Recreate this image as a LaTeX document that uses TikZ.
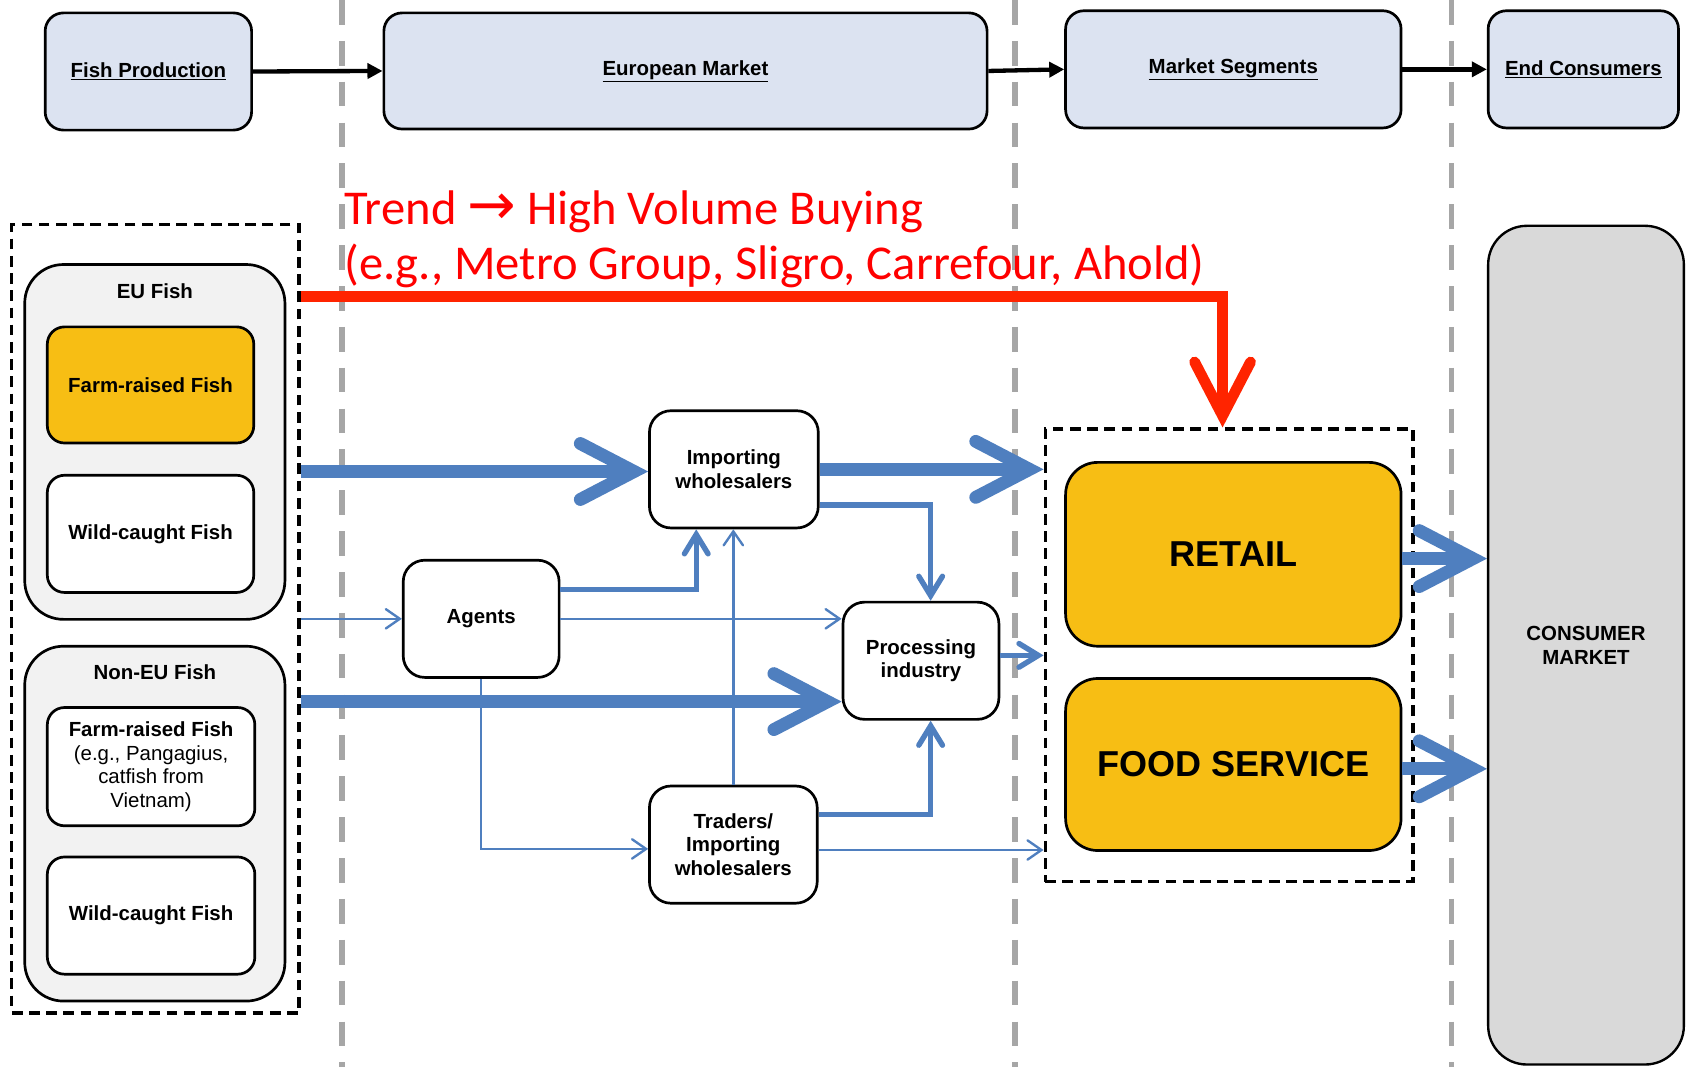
\documentclass[tikz,border=0pt]{standalone}
\usepackage{fontspec}
\setmainfont{Liberation Sans}
\newfontfamily\trendfont{Carlito}
\newfontfamily\symfont{DejaVu Sans}
\definecolor{headfill}{HTML}{DCE3F1}
\definecolor{groupfill}{HTML}{F2F2F2}
\definecolor{marketfill}{HTML}{D9D9D9}
\definecolor{goldcol}{HTML}{F7BE14}
\definecolor{flowcol}{HTML}{4F7FBF}
\definecolor{trendcol}{HTML}{FF2400}
\definecolor{trendtext}{HTML}{FF0000}
\definecolor{guidecol}{HTML}{A6A6A6}
\usetikzlibrary{arrows.meta}

\tikzset{
  boxfont/.style={font=\fontsize{19}{22}\selectfont\bfseries},
  headbox/.style={draw, line width=2.5pt, rounded corners=17pt, fill=headfill,
    inner sep=0pt, boxfont},
  groupbox/.style={draw, line width=2.5pt, rounded corners=36pt, fill=groupfill},
  fishbox/.style={draw, line width=2.5pt, rounded corners=16pt, fill=white,
    inner sep=0pt, align=center, boxfont},
  flowbox/.style={draw, line width=2.5pt, rounded corners=20pt, fill=white,
    minimum height=109pt, inner sep=0pt, align=center, boxfont},
  salesbox/.style={draw, line width=2.5pt, rounded corners=30pt, fill=goldcol,
    inner sep=0pt, font=\fontsize{33.5}{38}\selectfont\bfseries},
  marketbox/.style={draw, line width=2.2pt, rounded corners=36pt, fill=marketfill,
    inner sep=0pt, align=center, boxfont},
  frame/.style={draw, line width=3pt, dash pattern=on 10pt off 6pt, inner sep=0pt},
  guide/.style={guidecol, line width=5pt, dash pattern=on 23pt off 15pt},
  headarrow/.style={draw, line width=4pt, -{Triangle[length=14pt,width=14pt]}},
  flowthick/.style={draw=flowcol, line width=12pt,
    -{Straight Barb[length=50pt,width=52pt,line cap=round,line join=miter]}},
  flowmid/.style={draw=flowcol, line width=5pt,
    -{Straight Barb[length=18pt,width=22pt,line cap=round,line join=miter]}},
  flowthin/.style={draw=flowcol, line width=2.2pt,
    -{Straight Barb[length=13pt,width=18pt,line cap=round,line join=miter]}},
  trendline/.style={draw=trendcol, line width=10pt,
    -{Straight Barb[length=50pt,width=52pt,line cap=round,line join=miter]}},
  trendtxt/.style={text=trendtext, inner sep=0pt,
    font=\trendfont\fontsize{45.2}{52}\selectfont},
}

\begin{document}
\begin{tikzpicture}[x=1pt, y=-1pt]

\fill[white] (0,0) rectangle (1568,992);
\useasboundingbox (0,0) rectangle (1568,992);

% === stage separators ===
\foreach \gx in {318,944,1350}
  \draw[guide] (\gx,0) -- (\gx,992);

% === TOP: value chain stages ===
\node[headbox, minimum width=192pt, minimum height=109pt] (fishprod) at (138,66.5) {\underline{Fish Production}};
\node[headbox, minimum width=561pt, minimum height=108pt] (eumarket) at (637.5,66) {\underline{European Market}};
\node[headbox, minimum width=312pt, minimum height=109pt] (segments) at (1147,64.5) {\underline{Market Segments}};
\node[headbox, minimum width=177pt, minimum height=109pt] (endcons) at (1472.5,64.5) {\underline{End Consumers}};

\draw[headarrow] (fishprod.east) -- (eumarket.west);
\draw[headarrow] (eumarket.east) -- (segments.west);
\draw[headarrow] (segments.east) -- (endcons.west);

% === LEFT: fish sources ===
\node[frame, minimum width=267pt, minimum height=733pt] (source) at (144.5,575.5) {};

\node[groupbox, minimum width=242pt, minimum height=330pt] (eugroup) at (144,411) {};
\node[boxfont] (eutitle) at (144,271) {EU Fish};
\node[fishbox, fill=goldcol, minimum width=192pt, minimum height=108pt] (eufarm) at (140,358) {Farm-raised Fish};
\node[fishbox, minimum width=192pt, minimum height=109pt] (euwild) at (140,496.5) {Wild-caught Fish};

\node[groupbox, minimum width=242pt, minimum height=330pt] (nongroup) at (144,766) {};
\node[boxfont] (nontitle) at (144,625) {Non-EU Fish};
\node[fishbox, minimum width=193pt, minimum height=110pt] (nonfarm) at (140.5,713)
  {Farm-raised Fish\\\mdseries (e.g., Pangagius,\\\mdseries catfish from\\\mdseries Vietnam)};
\node[fishbox, minimum width=193pt, minimum height=109pt] (nonwild) at (140.5,851.5) {Wild-caught Fish};

% === CENTER: trade inside the European market ===
\node[flowbox, minimum width=157pt] (impw) at (682.5,436.5) {Importing\\wholesalers};
\node[flowbox, minimum width=145pt] (agents) at (447.5,575.5) {Agents};
\node[flowbox, minimum width=145pt] (proc) at (856.5,614.5) {Processing\\industry};
\node[flowbox, minimum width=156pt] (traders) at (682,785.5) {Traders/\\Importing\\wholesalers};

% === RIGHT: segments and consumers ===
\node[frame, minimum width=342pt, minimum height=421pt] (segframe) at (1143,609.5) {};
\node[salesbox, minimum width=312pt, minimum height=171pt] (retail) at (1147,515.5) {RETAIL};
\node[salesbox, minimum width=312pt, minimum height=160pt] (foodserv) at (1147,711) {FOOD SERVICE};
\node[marketbox, minimum width=182pt, minimum height=780pt] (consumer) at (1475,600) {CONSUMER\\MARKET};

% flows from the sources
\coordinate (procin) at ([yshift=-38pt]proc.west);
\draw[flowthick] ([yshift=-2pt]source.east |- impw.west) -- ([yshift=-2pt]impw.west);
\draw[flowthin] (source.east |- agents.west) -- (agents.west);
\draw[flowthick] (source.east |- procin) -- (procin);

% flows between the traders
\coordinate (tradout) at ([yshift=-5pt]traders.east);
\coordinate (procout) at ([yshift=5pt]proc.east);
\draw[flowthick] (impw.east) -- (segframe.west |- impw.east);
\draw[flowmid] ([yshift=-33pt]impw.east) -| ([xshift=9pt]proc.north);
\draw[flowmid] ([yshift=27pt]agents.east) -| ([xshift=-35pt]impw.south);
\draw[flowthin] (agents.east) -- (agents.east -| proc.west);
\draw[flowthin] (traders.north) -- (impw.south -| traders.north);
\draw[flowthin] (agents.south) |- ([yshift=-4pt]traders.west);
\draw[flowmid] ([yshift=28pt]traders.east) -| ([xshift=9pt]proc.south);
\draw[flowthin] (tradout) -- (segframe.west |- tradout);
\draw[flowmid] (procout) -- (segframe.west |- procout);

% flows to the consumer market
\coordinate (retailout) at ([yshift=-4pt]retail.east);
\coordinate (foodout) at ([yshift=-4pt]foodserv.east);
\draw[flowthick] (retailout) -- (consumer.west |- retailout);
\draw[flowthick] (foodout) -- (consumer.west |- foodout);

% === trend towards high volume buying ===
\node[trendtxt, anchor=base west] (trendhead) at (320,209)
  {Trend {\symfont\fontsize{54}{54}\selectfont →} High Volume Buying};
\node[trendtxt, anchor=base west] (trendnote) at (320,260) {(e.g., Metro Group, Sligro, Carrefour, Ahold)};
\coordinate (trendrow) at (0,276);
\draw[trendline] (source.east |- trendrow) -| ([xshift=-6pt]segframe.north);

\end{tikzpicture}
\end{document}
